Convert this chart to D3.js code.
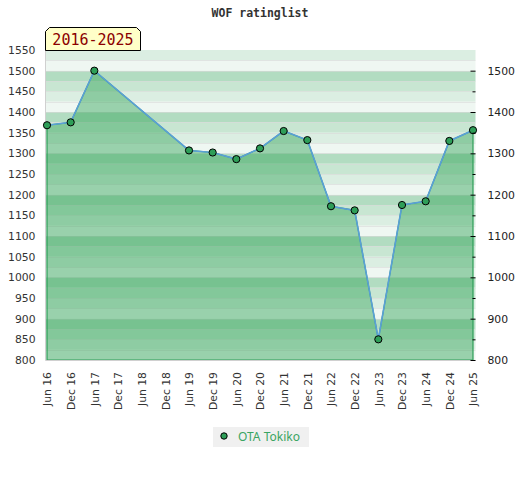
<!DOCTYPE html>
<html>
<head>
<meta charset="utf-8">
<script src="https://cdn.jsdelivr.net/npm/d3@7"></script>
<style>
  body { margin: 0; background: #fff; }
  svg { display: block; }
</style>
</head>
<body>
<div id="chart"></div>
<script>
// data
var periods = ['Jun 16', 'Dec 16', 'Jun 17', 'Dec 17', 'Jun 18', 'Dec 18', 'Jun 19', 'Dec 19', 'Jun 20', 'Dec 20',
  'Jun 21', 'Dec 21', 'Jun 22', 'Dec 22', 'Jun 23', 'Dec 23', 'Jun 24', 'Dec 24', 'Jun 25'];
var ratings = [1368, 1375, 1500, null, null, null, 1307, 1302, 1286, 1312,
  1354, 1332, 1172, 1162, 850, 1175, 1184, 1330, 1356];
var leftTicks = [800, 850, 900, 950, 1000, 1050, 1100, 1150, 1200, 1250, 1300, 1350, 1400, 1450, 1500, 1550];
var rightTicks = [800, 900, 1000, 1100, 1200, 1300, 1400, 1500];
var seriesName = 'OTA Tokiko';
var chartTitle = 'WOF ratinglist';
var rangeLabel = '2016-2025';

var width = 520;
var height = 480;
var plot = { left: 45.5, right: 475.5, top: 50, bottom: 360 };
var green = '#2e9e58';
var bandColors = ['#b2dcc1', '#c8e6d2', '#dbeee2', '#eff7f2'];
var fmt = d3.format('d');

var svg = d3.select('#chart')
  .append('svg')
  .attr('width', width)
  .attr('height', height);

var x = d3.scalePoint()
  .domain(periods)
  .range([47, 473]);

var y = d3.scaleLinear()
  .domain([800, 1550])
  .range([plot.bottom, plot.top]);

// background bands, 25 points each, 4 shades per 100
var bands = d3.range(800, 1550, 25);
svg.append('g')
  .selectAll('rect')
  .data(bands)
  .enter()
  .append('rect')
  .attr('x', plot.left)
  .attr('width', plot.right - plot.left)
  .attr('y', function(d) { return y(d + 25); })
  .attr('height', function(d) { return y(d) - y(d + 25); })
  .style('fill', function(d) {
    var k = 3 - Math.floor((d % 100) / 25);
    return bandColors[k];
  });

svg.append('g')
  .selectAll('line')
  .data(bands.slice(1))
  .enter()
  .append('line')
  .attr('x1', plot.left)
  .attr('x2', plot.right)
  .attr('y1', function(d) { return Math.round(y(d)) + 0.5; })
  .attr('y2', function(d) { return Math.round(y(d)) + 0.5; })
  .style('stroke', '#d8d8d8')
  .style('stroke-opacity', 0.6);

var points = periods.map(function(p, i) {
  return { period: p, value: ratings[i] };
}).filter(function(d) { return d.value !== null; });

var area = d3.area()
  .x(function(d) { return x(d.period); })
  .y0(plot.bottom)
  .y1(function(d) { return y(d.value); });

svg.append('path')
  .datum(points)
  .attr('d', area)
  .style('fill', 'rgb(43,161,83)')
  .style('fill-opacity', 0.44)
  .style('stroke', green)
  .style('stroke-width', 1.2);

var line = d3.line()
  .x(function(d) { return x(d.period); })
  .y(function(d) { return y(d.value); });

svg.append('path')
  .datum(points)
  .attr('d', line)
  .style('fill', 'none')
  .style('stroke', '#5a9fd8')
  .style('stroke-width', 1.6);

// frame: left and bottom
svg.append('path')
  .attr('d', 'M' + plot.left + ',' + plot.top + 'V' + (plot.bottom + 0.5) + 'H' + plot.right)
  .style('fill', 'none')
  .style('stroke', '#d0d0d0');

svg.append('g')
  .selectAll('circle')
  .data(points)
  .enter()
  .append('circle')
  .attr('cx', function(d) { return x(d.period); })
  .attr('cy', function(d) { return y(d.value); })
  .attr('r', 3.6)
  .style('fill', green)
  .style('stroke', '#000')
  .style('stroke-width', 1);

// left axis, labels only
var leftAxis = d3.axisLeft(y)
  .tickValues(leftTicks)
  .tickFormat(fmt)
  .tickSize(0)
  .tickPadding(10);

var gl = svg.append('g')
  .attr('transform', 'translate(' + plot.left + ',0)')
  .call(leftAxis);
gl.select('.domain').remove();
gl.selectAll('text')
  .style('font-family', 'DejaVu Sans')
  .style('font-size', '10.8px')
  .style('fill', '#333');

// right axis, ticks drawn inward
var rightAxis = d3.axisRight(y)
  .tickValues(rightTicks)
  .tickFormat(fmt)
  .tickSize(-5)
  .tickPadding(12);

var gr = svg.append('g')
  .attr('transform', 'translate(' + (plot.right) + ',0)')
  .call(rightAxis);
gr.select('.domain').remove();
gr.selectAll('line').style('stroke', '#000');
gr.selectAll('text')
  .style('font-family', 'DejaVu Sans')
  .style('font-size', '10.8px')
  .style('fill', '#222');

var minorAxis = d3.axisRight(y)
  .tickValues(d3.range(850, 1550, 100))
  .tickSize(-3)
  .tickFormat('');
var gm = svg.append('g')
  .attr('transform', 'translate(' + (plot.right) + ',0)')
  .call(minorAxis);
gm.select('.domain').remove();
gm.selectAll('line').style('stroke', '#000');

// bottom axis, rotated labels
var bottomAxis = d3.axisBottom(x)
  .tickSize(0)
  .tickPadding(0);

var gb = svg.append('g')
  .attr('transform', 'translate(0,' + plot.bottom + ')')
  .call(bottomAxis);
gb.select('.domain').remove();
gb.selectAll('text')
  .attr('transform', 'rotate(-90)')
  .attr('x', -12)
  .attr('y', 0)
  .attr('dy', '0.35em')
  .style('text-anchor', 'end')
  .style('font-family', 'DejaVu Sans')
  .style('font-size', '10.8px')
  .style('fill', '#333');

// title
svg.append('text')
  .attr('x', 260)
  .attr('y', 17)
  .attr('text-anchor', 'middle')
  .style('font-family', 'DejaVu Sans Mono')
  .style('font-weight', 'bold')
  .style('font-size', '11.5px')
  .style('fill', '#333')
  .text(chartTitle);

// range label box with cut top corners
var bx = 45.5, by = 27.5, bw = 95, bh = 23, c = 4;
svg.append('path')
  .attr('d', 'M' + bx + ',' + (by + bh) + 'V' + (by + c) + 'L' + (bx + c) + ',' + by +
    'H' + (bx + bw - c) + 'L' + (bx + bw) + ',' + (by + c) + 'V' + (by + bh) + 'Z')
  .style('fill', '#ffffc8')
  .style('stroke', '#000');

svg.append('text')
  .attr('x', bx + bw / 2)
  .attr('y', by + 17)
  .attr('text-anchor', 'middle')
  .style('font-family', 'DejaVu Sans Mono')
  .style('font-size', '15px')
  .style('fill', '#8b0000')
  .text(rangeLabel);

// legend
var lg = svg.append('g');
lg.append('rect')
  .attr('x', 213)
  .attr('y', 427)
  .attr('width', 96)
  .attr('height', 20)
  .style('fill', '#f0f0f0');
lg.append('circle')
  .attr('cx', 224)
  .attr('cy', 436)
  .attr('r', 3.2)
  .style('fill', green)
  .style('stroke', '#000');
lg.append('text')
  .attr('x', 238)
  .attr('y', 441)
  .style('font-family', 'Noto Sans')
  .style('font-size', '12px')
  .style('fill', '#3aa562')
  .text(seriesName);
</script>
</body>
</html>
